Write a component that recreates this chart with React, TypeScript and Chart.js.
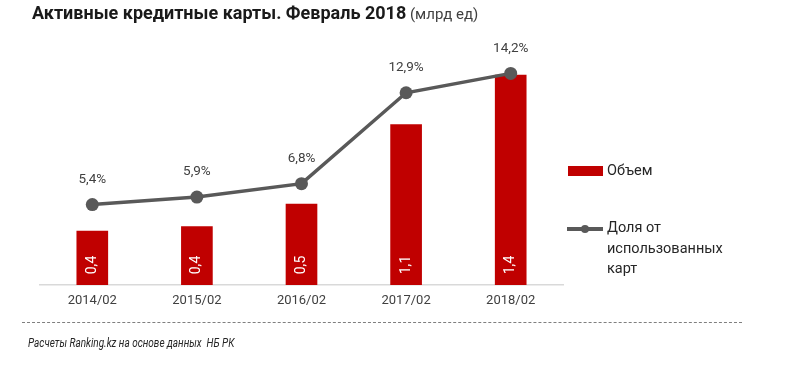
import React, { useEffect, useRef } from "react";
import { Chart, registerables } from "chart.js";

Chart.register(...registerables);

const categories = ["2014/02", "2015/02", "2016/02", "2017/02", "2018/02"];
const volumeValues = [0.36, 0.39, 0.54, 1.07, 1.4];
const shareValues = [5.4, 5.9, 6.8, 12.9, 14.2];

const titleText = "Активные кредитные карты. Февраль 2018";
const unitText = "(млрд ед)";
const volumeName = "Объем";
const shareNameLines = ["Доля от", "использованных", "карт"];
const sourceText = "Расчеты Ranking.kz на основе данных  НБ РК";

const FONT = "Roboto, 'Open Sans', sans-serif";
const fmt = (v: number) => v.toFixed(1).replace(".", ",");

const labelPlugin = {
  id: "valueLabels",
  afterDatasetsDraw(chart: any) {
    const ctx = chart.ctx;
    const lineMeta = chart.getDatasetMeta(0);
    const barMeta = chart.getDatasetMeta(1);
    ctx.save();
    barMeta.data.forEach((bar: any, i: number) => {
      ctx.save();
      ctx.translate(bar.x, bar.base - 20);
      ctx.rotate(-Math.PI / 2);
      ctx.fillStyle = "#ffffff";
      ctx.font = `14px ${FONT}`;
      ctx.textAlign = "center";
      ctx.textBaseline = "middle";
      ctx.fillText(fmt(volumeValues[i]), 0, 0);
      ctx.restore();
    });
    lineMeta.data.forEach((pt: any, i: number) => {
      ctx.fillStyle = "#404040";
      ctx.font = `13.5px ${FONT}`;
      ctx.textAlign = "center";
      ctx.textBaseline = "middle";
      ctx.fillText(fmt(shareValues[i]) + "%", pt.x, pt.y - 25);
    });
    ctx.restore();
  },
};

export default function App() {
  const ref = useRef<HTMLCanvasElement>(null);
  useEffect(() => {
    if (!ref.current) return;
    const chart = new Chart(ref.current, {
      type: "bar",
      data: {
        labels: categories,
        datasets: [
          {
            type: "line",
            label: shareNameLines.join(" "),
            data: shareValues,
            yAxisID: "y1",
            borderColor: "#595959",
            backgroundColor: "#595959",
            borderWidth: 3.5,
            pointRadius: 6.5,
            pointBackgroundColor: "#595959",
            pointBorderWidth: 0,
            order: 0,
          } as any,
          {
            type: "bar",
            label: volumeName,
            data: volumeValues,
            yAxisID: "y",
            backgroundColor: "#C00000",
            barThickness: 31,
            order: 1,
          },
        ],
      },
      options: {
        animation: false,
        responsive: false,
        maintainAspectRatio: false,
        layout: { padding: { left: 40, right: 237, top: 50, bottom: 50 } },
        plugins: { legend: { display: false }, tooltip: { enabled: false } },
        scales: {
          x: {
            grid: { display: false, drawTicks: false },
            border: { color: "#d9d9d9", width: 1.5 },
            ticks: { color: "#404040", font: { size: 13, family: FONT }, padding: 8 },
            afterFit: (s: any) => {
              s.height = 30;
            },
          },
          y: { display: false, min: 0, max: 1.567 },
          y1: { display: false, min: 0, max: 15.77, position: "right" },
        },
      },
      plugins: [labelPlugin],
    });
    return () => chart.destroy();
  }, []);

  return (
    <div
      style={{
        position: "fixed",
        left: 0,
        top: 0,
        width: 800,
        height: 365,
        background: "#fff",
        fontFamily: FONT,
        overflow: "hidden",
      }}
    >
      <canvas ref={ref} width={800} height={365} style={{ position: "absolute", left: 0, top: 0 }} />
      <div style={{ position: "absolute", left: 32, top: 2, whiteSpace: "nowrap", color: "#1a1a1a" }}>
        <span style={{ fontWeight: "bold", fontSize: 18 }}>{titleText}</span>
        <span style={{ fontSize: 15, color: "#404040" }}> {unitText}</span>
      </div>
      <div style={{ position: "absolute", left: 568, top: 166, width: 35, height: 10, background: "#C00000" }} />
      <div style={{ position: "absolute", left: 607, top: 161, fontSize: 14.5, color: "#262626", lineHeight: "20px" }}>
        {volumeName}
      </div>
      <div style={{ position: "absolute", left: 567, top: 227, width: 36, height: 3.5, background: "#595959" }} />
      <div
        style={{
          position: "absolute",
          left: 581,
          top: 225,
          width: 8,
          height: 8,
          borderRadius: 4,
          background: "#595959",
        }}
      />
      <div style={{ position: "absolute", left: 607, top: 218, fontSize: 14.5, color: "#262626", lineHeight: "20.5px" }}>
        {shareNameLines.map((l) => (
          <div key={l}>{l}</div>
        ))}
      </div>
      <div
        style={{
          position: "absolute",
          left: 22,
          top: 322,
          width: 720,
          height: 0,
          borderTop: "1.5px dashed #7f7f7f",
        }}
      />
      <div
        style={{
          position: "absolute",
          left: 28,
          top: 334,
          fontSize: 13.5,
          fontStyle: "italic",
          color: "#262626",
          whiteSpace: "pre",
          transform: "scaleX(0.74)",
          transformOrigin: "left top",
        }}
      >
        {sourceText}
      </div>
    </div>
  );
}
